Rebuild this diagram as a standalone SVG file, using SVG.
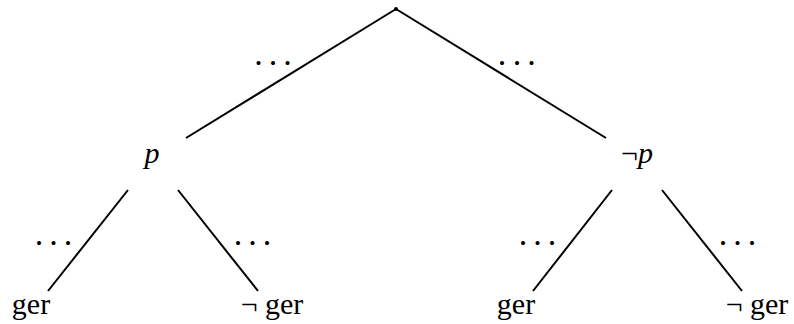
<svg xmlns="http://www.w3.org/2000/svg" width="794" height="324" viewBox="0 0 794 324">
<style>
.e{stroke:#000;stroke-width:2;fill:none}
.t{font-family:"Liberation Serif","DejaVu Serif",serif;font-size:30px;fill:#000}
.i{font-style:italic}
.d{font-family:"Liberation Serif","DejaVu Serif",serif;font-size:34px;fill:#000;text-anchor:middle}
</style>
<rect width="794" height="324" fill="#fff"/>
<g id="connectors">
<line class="e" x1="396" y1="9" x2="186" y2="138"/>
<line class="e" x1="396" y1="9" x2="606" y2="138"/>
<line class="e" x1="128" y1="190" x2="48" y2="291"/>
<line class="e" x1="178" y1="190" x2="258" y2="291"/>
<line class="e" x1="612" y1="190" x2="533" y2="291"/>
<line class="e" x1="662" y1="190" x2="742" y2="291"/>
<text class="d" x="258.5 273 287.5" y="64.5">...</text>
<text class="d" x="502 517 531.5" y="64.5">...</text>
<text class="d" x="39 53.5 68" y="244.5">...</text>
<text class="d" x="238 252.5 267" y="244.5">...</text>
<text class="d" x="523 537.5 552" y="244.5">...</text>
<text class="d" x="723 737.5 752" y="244.5">...</text>
</g>
<g id="root"><circle cx="396" cy="9" r="2" fill="#000"/></g>
<g id="p"><text class="t i" x="152" y="163" text-anchor="middle">p</text></g>
<g id="notp"><text class="t" x="637" y="163" text-anchor="middle">¬<tspan class="i">p</tspan></text></g>
<g id="ger1"><text class="t" x="31" y="314" text-anchor="middle">ger</text></g>
<g id="notger1"><text class="t" x="272" y="314" text-anchor="middle">¬ ger</text></g>
<g id="ger2"><text class="t" x="516" y="314" text-anchor="middle">ger</text></g>
<g id="notger2"><text class="t" x="757" y="314" text-anchor="middle">¬ ger</text></g>
</svg>
